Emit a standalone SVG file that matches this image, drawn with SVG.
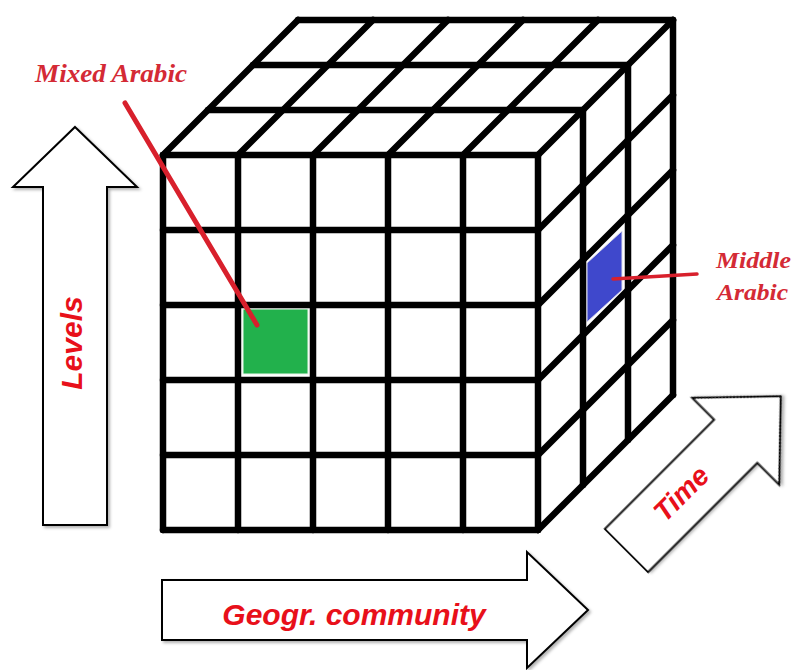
<svg xmlns="http://www.w3.org/2000/svg" width="795" height="670" viewBox="0 0 795 670">
<defs>
<filter id="sh" x="-10%" y="-10%" width="130%" height="130%">
<feDropShadow dx="2" dy="2" stdDeviation="1.8" flood-color="#000" flood-opacity="0.3"/>
</filter>
</defs>
<style>
.grid line{stroke:#000;stroke-width:6.5;stroke-linecap:round}
.arrow{fill:#fff;stroke:#000;stroke-width:2;stroke-linejoin:miter;filter:url(#sh)}
.axis{font-family:"Liberation Sans",Arial,sans-serif;font-weight:bold;font-style:italic;font-size:30px;fill:#e8101a}
.lbl{font-family:"Liberation Serif","Times New Roman",serif;font-weight:bold;font-style:italic;fill:#d42a35}
.lead{stroke:#d8202c;stroke-linecap:round;fill:none}
</style>
<rect width="795" height="670" fill="#fff"/>

<g id="arrow-levels">
<polygon class="arrow" points="75,127 137,187 107,187 107,525 43,525 43,187 13,187"/>
<text class="axis" transform="translate(82,343) rotate(-90)" text-anchor="middle">Levels</text>
</g>

<g id="arrow-geogr">
<polygon class="arrow" points="162,580 527,580 527,552 588,610 527,668 527,640 162,640"/>
<text class="axis" x="354" y="625" text-anchor="middle">Geogr. community</text>
</g>

<g id="arrow-time">
<g transform="translate(626.5,550.5) rotate(-45)">
<polygon class="arrow" points="0,-30.5 154.5,-30.5 154.5,-61.5 218,0 154.5,61.5 154.5,30.5 0,30.5"/>
<text class="axis" style="font-size:28px" x="79" y="8" text-anchor="middle">Time</text>
</g>
</g>

<g id="cube">
<rect id="cell-mixed" x="243" y="309" width="65" height="65" fill="#22b14c" stroke="#e8f5ea" stroke-width="1"/>
<polygon id="cell-middle" points="587,263 622,231 622,290 587,322" fill="#3f48cc" stroke="#dde" stroke-width="1" stroke-linejoin="round"/>
<g class="grid">
<line x1="163" y1="155" x2="163" y2="530"/>
<line x1="238" y1="155" x2="238" y2="530"/>
<line x1="313" y1="155" x2="313" y2="530"/>
<line x1="388" y1="155" x2="388" y2="530"/>
<line x1="463" y1="155" x2="463" y2="530"/>
<line x1="538" y1="155" x2="538" y2="530"/>
<line x1="163" y1="155" x2="538" y2="155"/>
<line x1="163" y1="230" x2="538" y2="230"/>
<line x1="163" y1="305" x2="538" y2="305"/>
<line x1="163" y1="380" x2="538" y2="380"/>
<line x1="163" y1="455" x2="538" y2="455"/>
<line x1="163" y1="530" x2="538" y2="530"/>
<line x1="208" y1="110" x2="583" y2="110"/>
<line x1="253" y1="65" x2="628" y2="65"/>
<line x1="298" y1="20" x2="673" y2="20"/>
<line x1="163" y1="155" x2="298" y2="20"/>
<line x1="238" y1="155" x2="373" y2="20"/>
<line x1="313" y1="155" x2="448" y2="20"/>
<line x1="388" y1="155" x2="523" y2="20"/>
<line x1="463" y1="155" x2="598" y2="20"/>
<line x1="538" y1="155" x2="673" y2="20"/>
<line x1="583" y1="110" x2="583" y2="485"/>
<line x1="628" y1="65" x2="628" y2="440"/>
<line x1="673" y1="20" x2="673" y2="395"/>
<line x1="538" y1="230" x2="673" y2="95"/>
<line x1="538" y1="305" x2="673" y2="170"/>
<line x1="538" y1="380" x2="673" y2="245"/>
<line x1="538" y1="455" x2="673" y2="320"/>
<line x1="538" y1="530" x2="673" y2="395"/>
</g>
</g>

<g id="label-mixed">
<text class="lbl" x="35" y="82" font-size="26" textLength="152" lengthAdjust="spacingAndGlyphs">Mixed Arabic</text>
</g>

<g id="label-middle">
<text class="lbl" x="716" y="268" font-size="23" textLength="75" lengthAdjust="spacingAndGlyphs">Middle</text>
<text class="lbl" x="717" y="300" font-size="23" textLength="71" lengthAdjust="spacingAndGlyphs">Arabic</text>
</g>

<g id="connectors">
<line class="lead" x1="125" y1="103" x2="257" y2="325" stroke-width="5"/>
<line class="lead" x1="613" y1="279" x2="697" y2="274" stroke-width="3.5"/>
</g>
</svg>
